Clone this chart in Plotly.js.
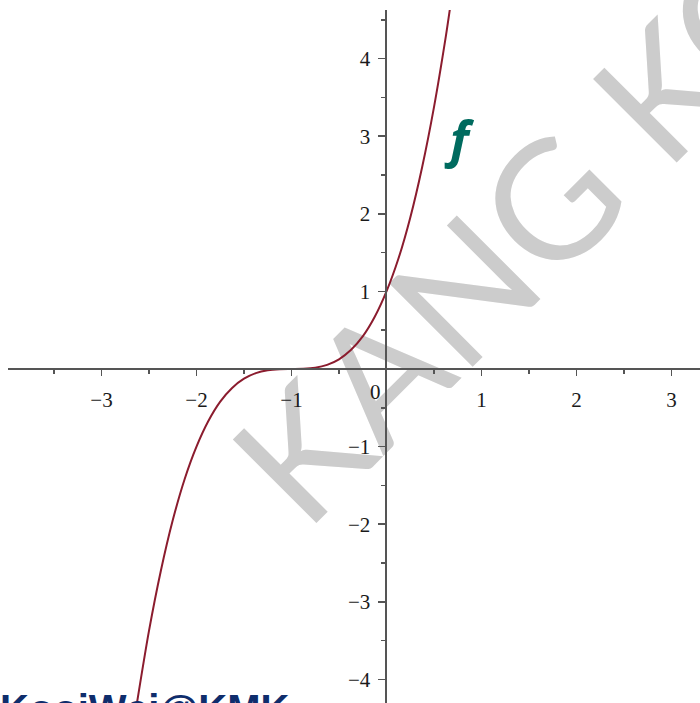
<!DOCTYPE html>
<html>
<head>
<meta charset="utf-8">
<script src="https://cdn.plot.ly/plotly-3.0.1.min.js"></script>
<style>
  html, body { margin: 0; padding: 0; background: #ffffff; }
  #plot { width: 700px; height: 703px; }
</style>
</head>
<body>
<div id="plot"></div>
<script>
// Sampled points of the curve f
const curveX = [-2.63, -2.5, -2.375, -2.25, -2.125, -2.0, -1.875, -1.75, -1.625, -1.5, -1.375, -1.25, -1.125, -1.0,
                -0.875, -0.75, -0.625, -0.5, -0.375, -0.25, -0.125, 0.0, 0.125, 0.25, 0.375, 0.5, 0.625, 0.67];
const curveY = [-4.33, -3.375, -2.60, -1.95, -1.42, -1.0, -0.67, -0.42, -0.244, -0.125, -0.053, -0.016, -0.002, 0.0,
                0.002, 0.016, 0.053, 0.125, 0.244, 0.42, 0.67, 1.0, 1.42, 1.95, 2.60, 3.375, 4.29, 4.66];

// Axis ticks
const xTickVals = [-3, -2, -1, 1, 2, 3];
const xTickText = ['\u22123', '\u22122', '\u22121', '1', '2', '3'];
const yTickVals = [-4, -3, -2, -1, 1, 2, 3, 4];
const yTickText = ['\u22124', '\u22123', '\u22122', '\u22121', '1', '2', '3', '4'];
const xMinorVals = [-3.5, -2.5, -1.5, -0.5, 0.5, 1.5, 2.5];
const yMinorVals = [-3.5, -2.5, -1.5, -0.5, 0.5, 1.5, 2.5, 3.5, 4.5];
const originLabel = '0';

// Texts
const curveLabel = 'f';
const watermarkText = 'KANG KOOI WEI';
const signatureText = 'KangKooiWei@KMK';

const W = 700, H = 703;
const xRange = [-3.984, 3.30];
const yRange = [-4.304, 4.626];
const xDomain = [8 / W, 1];
const yDomain = [0, 1 - 10 / H];

// paper positions where each axis crosses zero of the other one
const xAxisPos = yDomain[0] + (0 - yRange[0]) / (yRange[1] - yRange[0]) * (yDomain[1] - yDomain[0]);
const yAxisPos = xDomain[0] + (0 - xRange[0]) / (xRange[1] - xRange[0]) * (xDomain[1] - xDomain[0]);

const axisColor = '#555555';
const tickFont = { family: 'Liberation Serif, Times New Roman, serif', size: 21, color: '#1a1a1a' };

const trace = {
  x: curveX, y: curveY,
  type: 'scatter', mode: 'lines',
  line: { color: '#8b1c2e', width: 2, shape: 'spline', smoothing: 0.8 },
  hoverinfo: 'skip'
};

// watermark baseline, given in pixels then converted to paper units
const wmStart = [259, 487];
const wmAngle = 45 * Math.PI / 180;
const wmLen = 1500;
const wmEnd = [wmStart[0] + wmLen * Math.cos(wmAngle), wmStart[1] - wmLen * Math.sin(wmAngle)];

const layout = {
  width: W, height: H,
  margin: { l: 0, r: 0, t: 0, b: 0, pad: 0 },
  paper_bgcolor: '#ffffff', plot_bgcolor: 'rgba(0,0,0,0)',
  showlegend: false,
  xaxis: {
    domain: xDomain, range: xRange, anchor: 'free', position: xAxisPos, side: 'bottom',
    showgrid: false, zeroline: false,
    showline: true, linecolor: axisColor, linewidth: 2,
    ticks: 'outside', ticklen: 6, tickwidth: 1.5, tickcolor: axisColor,
    tickmode: 'array', tickvals: xTickVals, ticktext: xTickText,
    tickfont: tickFont, ticklabelstandoff: 6,
    minor: { tickmode: 'array', tickvals: xMinorVals, ticks: 'outside', ticklen: 4, tickwidth: 1.5, tickcolor: axisColor, showgrid: false },
    fixedrange: true
  },
  yaxis: {
    domain: yDomain, range: yRange, anchor: 'free', position: yAxisPos, side: 'left',
    showgrid: false, zeroline: false,
    showline: true, linecolor: axisColor, linewidth: 2,
    ticks: 'outside', ticklen: 7, tickwidth: 1.5, tickcolor: axisColor,
    tickmode: 'array', tickvals: yTickVals, ticktext: yTickText,
    tickfont: tickFont, ticklabelstandoff: 4,
    minor: { tickmode: 'array', tickvals: yMinorVals, ticks: 'outside', ticklen: 4, tickwidth: 1.5, tickcolor: axisColor, showgrid: false },
    fixedrange: true
  },
  shapes: [{
    type: 'line', layer: 'below', xref: 'paper', yref: 'paper',
    x0: wmStart[0] / W, y0: 1 - wmStart[1] / H, x1: wmEnd[0] / W, y1: 1 - wmEnd[1] / H,
    line: { width: 0, color: 'rgba(0,0,0,0)' },
    label: {
      text: watermarkText, textangle: 'auto', textposition: 'start', yanchor: 'middle', padding: 0,
      font: { family: 'Lato, Open Sans, sans-serif', size: 165, color: '#cccccc' }
    }
  }],
  annotations: [
    {
      x: 0, y: 0, xref: 'x', yref: 'y', text: originLabel, showarrow: false,
      xanchor: 'center', yanchor: 'middle', xshift: -11, yshift: -23, font: tickFont
    },
    {
      x: 0.77, y: 2.98, xref: 'x', yref: 'y', text: '<b><i>' + curveLabel + '</i></b>', showarrow: false,
      xanchor: 'center', yanchor: 'middle',
      font: { family: 'Open Sans, sans-serif', size: 50, color: '#006b5f' }
    },
    {
      x: 291 / W, y: 0, xref: 'paper', yref: 'paper', text: '<b>' + signatureText + '</b>', showarrow: false,
      xanchor: 'right', yanchor: 'top', yshift: 18,
      font: { family: 'Liberation Sans, Arial, sans-serif', size: 40, color: '#0f2d6c' }
    }
  ]
};

Plotly.newPlot('plot', [trace], layout, { displayModeBar: false, staticPlot: true });
</script>
</body>
</html>
